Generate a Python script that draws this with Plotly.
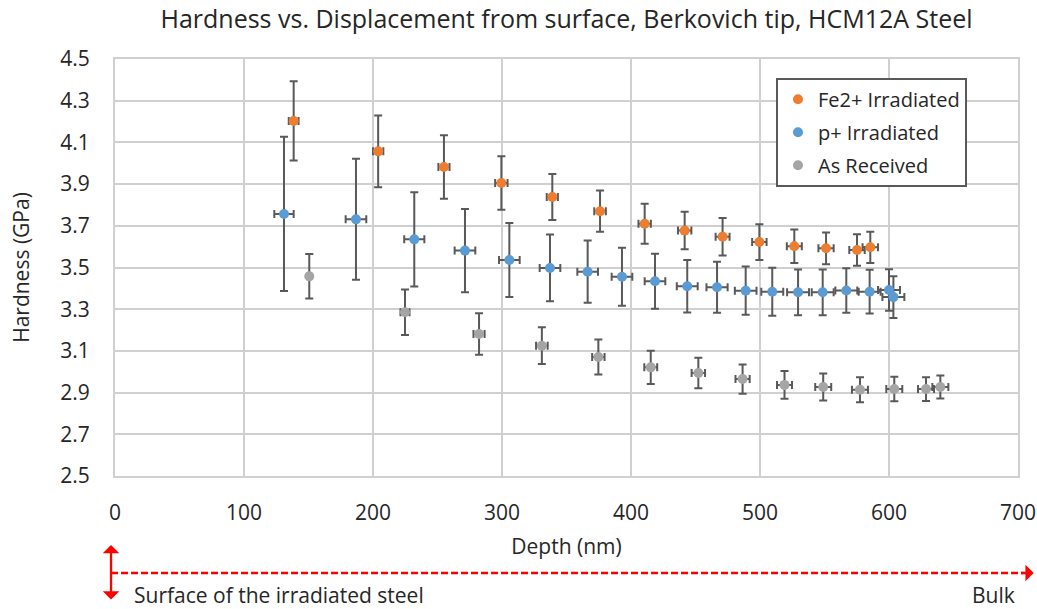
import plotly.graph_objects as go

# Fe2+ Irradiated
fe_depth = [138.5, 204, 255, 299.5, 339, 376, 410.6, 441.6, 471, 499.5, 526.6, 551.2, 575.2, 585.5]
fe_hard = [4.203, 4.057, 3.982, 3.905, 3.838, 3.770, 3.710, 3.677, 3.648, 3.622, 3.602, 3.592, 3.584, 3.597]
fe_herr = [0.19, 0.172, 0.152, 0.128, 0.11, 0.099, 0.096, 0.09, 0.09, 0.086, 0.08, 0.076, 0.076, 0.075]
fe_derr = [3.8, 4.0, 4.3, 4.8, 4.3, 4.5, 4.8, 5.2, 5.4, 5.6, 5.8, 5.9, 6.0, 6.0]

# p+ Irradiated
p_depth = [131, 186.8, 232, 271.3, 305.7, 337.2, 366.4, 393, 418.6, 443.6, 466.7, 488.9, 509.5, 529.5, 548.6, 566.9, 585, 600, 603.4]
p_hard = [3.757, 3.731, 3.635, 3.581, 3.536, 3.498, 3.480, 3.456, 3.434, 3.410, 3.405, 3.389, 3.384, 3.381, 3.381, 3.390, 3.384, 3.392, 3.358]
p_herr = [0.37, 0.29, 0.226, 0.2, 0.177, 0.16, 0.149, 0.139, 0.132, 0.126, 0.122, 0.116, 0.115, 0.11, 0.11, 0.107, 0.105, 0.1, 0.1]
p_derr = [7.5, 8.0, 7.8, 8.0, 8.0, 8.0, 8.0, 8.0, 8.0, 8.1, 8.2, 8.4, 8.5, 8.5, 8.5, 8.5, 8.5, 8.5, 8.5]

# As Received
ar_depth = [150.6, 224.8, 282.2, 330.9, 374.7, 415.3, 452.2, 486.5, 519, 549, 577.5, 604.1, 628.7, 639.8]
ar_hard = [3.458, 3.285, 3.181, 3.125, 3.071, 3.021, 2.994, 2.965, 2.937, 2.927, 2.914, 2.917, 2.917, 2.927]
ar_herr = [0.107, 0.109, 0.1, 0.088, 0.084, 0.08, 0.073, 0.07, 0.066, 0.065, 0.06, 0.059, 0.057, 0.055]
ar_derr = [1.5, 3.5, 4.3, 4.5, 4.8, 5.0, 5.2, 5.5, 5.8, 6.2, 6.2, 6.2, 6.2, 6.2]

x_ticks = [0, 100, 200, 300, 400, 500, 600, 700]
y_ticks = [2.5, 2.7, 2.9, 3.1, 3.3, 3.5, 3.7, 3.9, 4.1, 4.3, 4.5]

FONT = "Open Sans"
TEXT = "#262626"
ERR_COLOR = "#595959"
RED = "#FF0000"

series = [
    ("Fe2+ Irradiated", fe_depth, fe_hard, fe_herr, fe_derr, "#ED7D31"),
    ("p+ Irradiated", p_depth, p_hard, p_herr, p_derr, "#5B9BD5"),
    ("As Received", ar_depth, ar_hard, ar_herr, ar_derr, "#A5A5A5"),
]

fig = go.Figure()
for i, (name, xs, ys, yerr, xerr, color) in enumerate(series):
    fig.add_trace(go.Scatter(
        x=xs, y=ys, mode="markers", name=name, legendgroup=f"g{i}",
        marker=dict(color=color, size=10),
        error_y=dict(type="data", array=yerr, symmetric=True, color=ERR_COLOR, thickness=2, width=4),
        error_x=dict(type="data", array=xerr, symmetric=True, color=ERR_COLOR, thickness=2, width=4),
    ))

fig.update_layout(
    width=1037, height=609,
    margin=dict(l=115, r=19, t=59, b=133, autoexpand=False),
    paper_bgcolor="white", plot_bgcolor="white",
    font=dict(family=FONT, size=21, color=TEXT),
    title=dict(text="Hardness vs. Displacement from surface, Berkovich tip, HCM12A Steel",
               x=0.5, xref="paper", xanchor="center", y=0.968, yanchor="middle",
               font=dict(size=25, color=TEXT)),
    legend=dict(x=0.732, y=0.955, xanchor="left", yanchor="top",
                bgcolor="white", bordercolor="#595959", borderwidth=2,
                font=dict(size=20, color=TEXT), tracegroupgap=4, itemwidth=30),
    showlegend=True,
)

fig.update_xaxes(
    range=[0, 700], tickvals=x_ticks, ticktext=[str(v) for v in x_ticks],
    showgrid=True, gridcolor="#D0D0D0", gridwidth=2,
    showline=True, linecolor="#D0D0D0", linewidth=2, mirror=True,
    zeroline=False, ticks="outside", ticklen=17, tickcolor="rgba(0,0,0,0)",
    tickfont=dict(size=21), automargin=False,
    title=dict(text="Depth (nm)", standoff=14, font=dict(size=21)),
)
fig.update_yaxes(
    range=[2.5, 4.5], tickvals=y_ticks, ticktext=[f"{v:.1f}" for v in y_ticks],
    showgrid=True, gridcolor="#D0D0D0", gridwidth=2,
    showline=True, linecolor="#D0D0D0", linewidth=2, mirror=True,
    zeroline=False, ticks="outside", ticklen=19, tickcolor="rgba(0,0,0,0)",
    tickfont=dict(size=21), automargin=False,
    title=dict(text="Hardness (GPa)", standoff=25, font=dict(size=21)),
)

# Surface -> Bulk dashed arrow below the axis (paper coords; plot area is 903x417 px)
y_arrow = -0.2326
x_left = -0.0044
fig.add_shape(type="line", xref="paper", yref="paper",
              x0=x_left, x1=1.006, y0=y_arrow, y1=y_arrow,
              line=dict(color=RED, width=2.3, dash="7px,3px"))
fig.add_annotation(xref="paper", yref="paper", x=1.0174, y=y_arrow,
                   ax=-14, ay=0, showarrow=True, arrowhead=1, arrowsize=1.2,
                   arrowwidth=2.3, arrowcolor=RED, text="")
fig.add_annotation(xref="paper", yref="paper", x=x_left, y=-0.1655,
                   ax=0, ay=56, showarrow=True, arrowhead=1, arrowsize=1.2,
                   arrowside="end+start", arrowwidth=2.3, arrowcolor=RED, text="")
fig.add_annotation(xref="paper", yref="paper", x=0.0185, y=-0.2854,
                   xanchor="left", yanchor="middle", showarrow=False,
                   text="Surface of the irradiated steel", font=dict(size=21, color=TEXT))
fig.add_annotation(xref="paper", yref="paper", x=0.9985, y=-0.2854,
                   xanchor="right", yanchor="middle", showarrow=False,
                   text="Bulk", font=dict(size=21, color=TEXT))

fig.write_html("out.html", config={"displayModeBar": False},
               post_script="document.body.style.margin='0';document.body.style.overflow='hidden';")
